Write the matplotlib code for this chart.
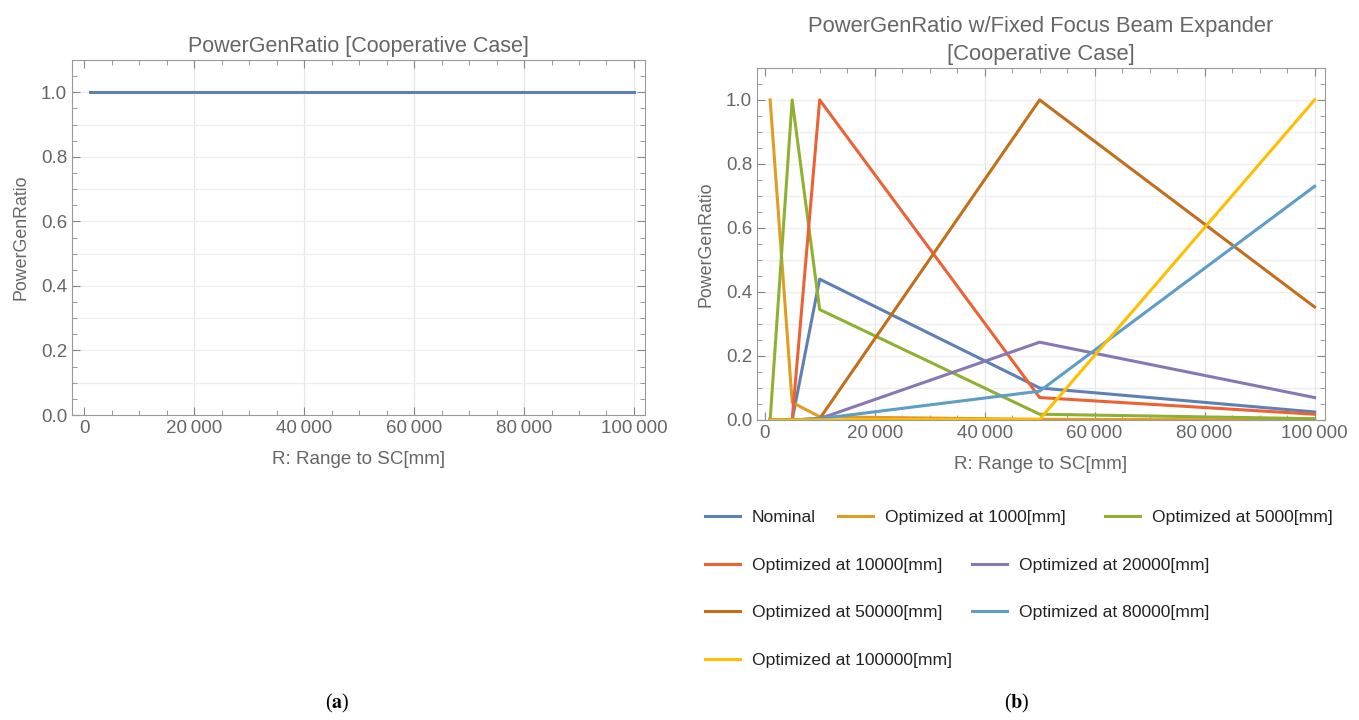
import matplotlib.pyplot as plt
from matplotlib.ticker import FuncFormatter, MultipleLocator
from matplotlib.lines import Line2D

# data
r_left = [1000, 5000, 10000, 20000, 50000, 80000, 100000]
ratio_left = [1.0, 1.0, 1.0, 1.0, 1.0, 1.0, 1.0]

r_right = [1000, 5000, 10000, 50000, 100000]
series_names = [
    "Nominal",
    "Optimized at 1000[mm]",
    "Optimized at 5000[mm]",
    "Optimized at 10000[mm]",
    "Optimized at 20000[mm]",
    "Optimized at 50000[mm]",
    "Optimized at 80000[mm]",
    "Optimized at 100000[mm]",
]
nominal = [0.0, 0.0, 0.44, 0.10, 0.025]
opt_1000 = [1.0, 0.055, 0.01, 0.002, 0.0]
opt_5000 = [0.0, 1.0, 0.345, 0.018, 0.004]
opt_10000 = [0.0, 0.0, 1.0, 0.07, 0.018]
opt_20000 = [0.0, 0.0, 0.004, 0.243, 0.07]
opt_50000 = [0.0, 0.0, 0.004, 1.0, 0.353]
opt_80000 = [0.0, 0.0, 0.004, 0.09, 0.73]
opt_100000 = [0.0, 0.0, 0.0, 0.002, 1.0]
series = [nominal, opt_1000, opt_5000, opt_10000, opt_20000,
          opt_50000, opt_80000, opt_100000]

colors = ['#5E81B5', '#E19C24', '#8FB032', '#EB6235',
          '#8778B3', '#C56E1A', '#5D9EC7', '#FFBF00']

grey = '#666666'
plt.rcParams['font.family'] = ['Liberation Sans', 'DejaVu Sans']


def thin_sep(x, pos):
    if abs(x) < 1e-9:
        return '0'
    return '{:,.0f}'.format(x).replace(',', '\u2009')


def style_axes(ax):
    ax.set_ylim(0, 1.1)
    ax.xaxis.set_major_locator(MultipleLocator(20000))
    ax.xaxis.set_minor_locator(MultipleLocator(5000))
    ax.yaxis.set_major_locator(MultipleLocator(0.2))
    ax.yaxis.set_minor_locator(MultipleLocator(0.05))
    ax.xaxis.set_major_formatter(FuncFormatter(thin_sep))
    ax.yaxis.set_major_formatter(FuncFormatter(lambda v, p: '{:.1f}'.format(v)))
    ax.tick_params(which='both', direction='in', top=True, right=True,
                   colors='#888888', labelcolor=grey, labelsize=13.5)
    ax.tick_params(which='major', length=6)
    ax.tick_params(which='minor', length=3.5)
    for s in ax.spines.values():
        s.set_color('#999999')
    for gx in range(20000, 100001, 20000):
        ax.axvline(gx, color='#e6e6e6', lw=0.9, zorder=0)
    for gy in [0.1, 0.2, 0.3, 0.4, 0.5, 0.6, 0.7, 0.8, 0.9, 1.0]:
        ax.axhline(gy, color='#eeeeee', lw=0.9, zorder=0)
    ax.set_xlabel('R: Range to SC[mm]', color=grey, fontsize=13.5, labelpad=10)
    ax.set_ylabel('PowerGenRatio', color=grey, fontsize=12.8, labelpad=8)


fig = plt.figure(figsize=(13.59, 7.2), dpi=100)

ax1 = fig.add_axes([0.053, 0.4236, 0.4216, 0.493])
ax1.plot(r_left, ratio_left, color=colors[0], lw=2.2)
ax1.set_xlim(-2200, 102000)
style_axes(ax1)
ax1.set_title('PowerGenRatio [Cooperative Case]', color=grey, fontsize=15.5, pad=6)

ax2 = fig.add_axes([0.557, 0.4167, 0.418, 0.489])
for name, vals, c in zip(series_names, series, colors):
    ax2.plot(r_right, vals, color=c, lw=2.2, label=name)
ax2.set_xlim(-1400, 101900)
style_axes(ax2)
ax2.set_title('PowerGenRatio w/Fixed Focus Beam Expander\n[Cooperative Case]',
              color=grey, fontsize=15.8, pad=6, linespacing=1.4)

# legend laid out in rows like the reference
rows = [[0, 1, 2], [3, 4], [5, 6], [7]]
row_y = [516, 564, 611, 659]
col_x = {0: [705, 838, 1105], 1: [705, 972], 2: [705, 972], 3: [705]}
W, H = 1359.0, 720.0
for ri, idxs in enumerate(rows):
    for ci, k in enumerate(idxs):
        x0 = col_x[ri][ci]
        y = 1 - row_y[ri] / H
        fig.add_artist(Line2D([x0 / W, (x0 + 35) / W], [y, y],
                              color=colors[k], lw=2.2))
        fig.text((x0 + 47) / W, y, series_names[k], fontsize=12.6,
                 color='#222222', va='center_baseline', ha='left')

plt.rcParams['mathtext.fontset'] = 'stix'
fig.text(337 / W, 1 - 703 / H, r'($\mathbf{a}$)', fontsize=14.5,
         family='Liberation Serif', ha='center', va='center')
fig.text(1017 / W, 1 - 703 / H, r'($\mathbf{b}$)', fontsize=14.5,
         family='Liberation Serif', ha='center', va='center')

fig.savefig('out.png', dpi=100)
